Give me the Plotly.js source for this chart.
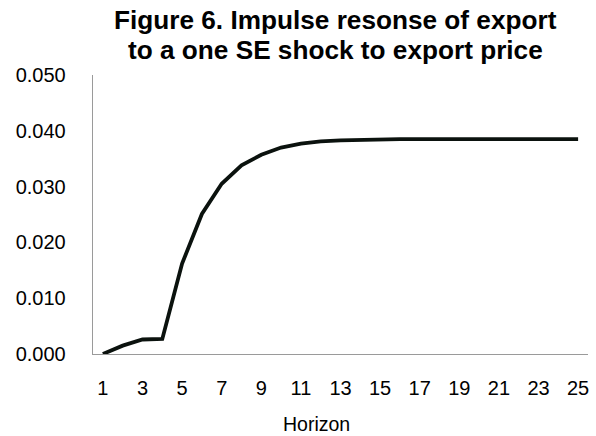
<!DOCTYPE html>
<html>
<head>
<meta charset="utf-8">
<script src="https://cdn.plot.ly/plotly-3.0.1.min.js"></script>
<style>html,body{margin:0;padding:0;background:#fff;}#chart{width:596px;height:436px;}</style>
</head>
<body>
<div id="chart"></div>
<script>
var horizon = [1,2,3,4,5,6,7,8,9,10,11,12,13,14,15,16,17,18,19,20,21,22,23,24,25];
var response = [0.0000,0.0015,0.0026,0.0027,0.0162,0.0251,0.0305,0.0338,0.0357,0.0370,0.0377,0.0381,0.0383,0.0384,0.0384,0.0385,0.0385,0.0385,0.0385,0.0385,0.0385,0.0385,0.0385,0.0385,0.0385];
var xTicks = [1,3,5,7,9,11,13,15,17,19,21,23,25];
var titleLines = ["Figure 6. Impulse resonse of export", "to a one SE shock to export price"];
var xTitle = "Horizon";

var fontFam = '"Liberation Sans", Arial, sans-serif';
var W = 596, H = 436, mL = 93, mR = 8, mT = 75, mB = 82;
var plotH = H - mT - mB;
function py(p) { return (H - mB - p) / plotH; }

var trace = {
  x: horizon, y: response, type: 'scatter', mode: 'lines',
  line: {color: '#0b120e', width: 3.8, shape: 'linear'},
  hoverinfo: 'none'
};
var titleFont = {family: fontFam, size: 26.2, color: '#000'};
var layout = {
  width: W, height: H,
  margin: {l: mL, r: mR, t: mT, b: mB},
  paper_bgcolor: '#fff', plot_bgcolor: '#fff',
  showlegend: false,
  font: {family: fontFam, color: '#000', size: 20},
  xaxis: {
    range: [0.5, 25.5], tickvals: xTicks, ticktext: xTicks.map(String),
    showgrid: false, zeroline: false, showline: true, linecolor: '#9a9a9a', linewidth: 1.3,
    ticks: '', ticklabelstandoff: 16,
    tickfont: {family: fontFam, size: 20, color: '#000'}
  },
  yaxis: {
    range: [0, 0.05], dtick: 0.01, tick0: 0, tickformat: '.3f',
    showgrid: false, zeroline: false, showline: true, linecolor: '#9a9a9a', linewidth: 1.3,
    ticks: '', ticklabelstandoff: 22,
    tickfont: {family: fontFam, size: 20, color: '#000'}
  },
  annotations: [
    {text: '<b>' + titleLines[0] + '</b>', xref: 'paper', yref: 'paper', x: 0.489, y: py(20),
     xanchor: 'center', yanchor: 'middle', showarrow: false, font: titleFont},
    {text: '<b>' + titleLines[1] + '</b>', xref: 'paper', yref: 'paper', x: 0.489, y: py(49.5),
     xanchor: 'center', yanchor: 'middle', showarrow: false, font: titleFont},
    {text: xTitle, xref: 'paper', yref: 'paper', x: 0.4525, y: py(424),
     xanchor: 'center', yanchor: 'middle', showarrow: false,
     font: {family: fontFam, size: 19.5, color: '#000'}}
  ]
};
Plotly.newPlot('chart', [trace], layout, {displayModeBar: false, staticPlot: true});
</script>
</body>
</html>
